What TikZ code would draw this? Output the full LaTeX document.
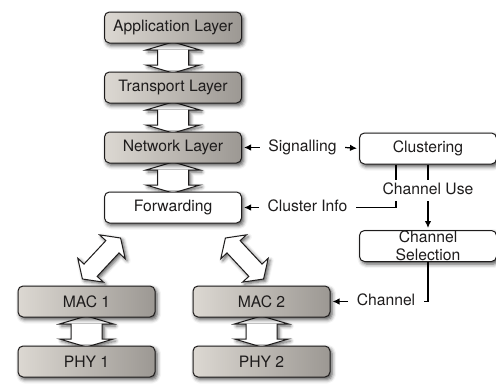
\documentclass[tikz,border=0pt]{standalone}
\usepackage{fontspec}
\setmainfont{TeX Gyre Heros}
\usetikzlibrary{positioning,calc,shadows.blur,arrows.meta,backgrounds}
\definecolor{boxlight}{RGB}{220,216,210}
\definecolor{boxdark}{RGB}{156,152,147}
\definecolor{inkgray}{RGB}{30,28,28}

\tikzset{
  layer/.style={draw=inkgray, line width=1pt, rounded corners=5pt,
    minimum width=137pt, minimum height=31pt, inner sep=0pt,
    left color=boxlight, right color=boxdark, text=inkgray,
    blur shadow={shadow xshift=2pt, shadow yshift=-2.5pt, shadow blur radius=4pt, shadow opacity=70}},
  block/.style={layer, left color=white, right color=white},
  lbl/.style={inner xsep=8pt, inner ysep=3pt, text height=11.5pt, text depth=3pt, text=inkgray},
  % fat two-headed arrow: length, head width, shaft width, head length
  pics/dblarrow/.style n args={4}{code={
    \pgfmathsetmacro\aL{#1/2}\pgfmathsetmacro\aH{#2/2}
    \pgfmathsetmacro\aS{#3/2}\pgfmathsetmacro\aK{#4}
    \draw[draw=inkgray, line width=1pt, fill=white, line join=miter,
      blur shadow={shadow xshift=2pt, shadow yshift=-2pt, shadow blur radius=3.5pt, shadow opacity=65}]
      (-\aL,0) -- (-\aL+\aK,\aH) -- (-\aL+\aK,\aS) -- (\aL-\aK,\aS) -- (\aL-\aK,\aH)
      -- (\aL,0) -- (\aL-\aK,-\aH) -- (\aL-\aK,-\aS) -- (-\aL+\aK,-\aS) -- (-\aL+\aK,-\aH) -- cycle;
  }}
}

\begin{document}
\begin{tikzpicture}[x=1pt, y=-1pt, node distance=60pt, font=\fontsize{15.7}{18}\selectfont,
    >={Latex[length=7pt,width=6.5pt]}, line width=1.2pt]
  \useasboundingbox (0,0) rectangle (496,388);
  % protocol stack
  \node[layer] (App) at (173,27.5) {Application Layer};
  \node[layer] (Tra) [below of=App] {Transport Layer};
  \node[layer] (Net) [below of=Tra] {Network Layer};
  \node[block] (Fwd) [below of=Net] {Forwarding};
  \node[layer] (MacA) at (86.5,301.5) {MAC 1};
  \node[layer] (PhyA) [below of=MacA] {PHY 1};
  \node[layer] (MacB) at (261.5,301.5) {MAC 2};
  \node[layer] (PhyB) [below of=MacB] {PHY 2};
  % cluster side
  \node[block] (Clu) at (428,148.5) {Clustering};
  \node[block, align=center] (Sel) at (428,246) {Channel\\Selection};
  \node[lbl] (Sig) at (302.5,147.5) {Signalling};
  \node[lbl] (Cin) at (307.5,207.5) {Cluster Info};
  \node[lbl] (Use) at (428,190.5) {Channel Use};
  \node[lbl] (Chn) at (386,301.5) {Channel};

  \begin{scope}[on background layer]
    \pic[rotate=90] at ($(App.south)!0.5!(Tra.north)$) {dblarrow={31}{54}{31}{8}};
    \pic[rotate=90] at ($(Tra.south)!0.5!(Net.north)$) {dblarrow={31}{54}{31}{8}};
    \pic[rotate=90] at ($(Net.south)!0.5!(Fwd.north)$) {dblarrow={31}{54}{31}{8}};
    \pic[rotate=90] at ($(MacA.south)!0.5!(PhyA.north)$) {dblarrow={31}{54}{31}{8}};
    \pic[rotate=90] at ($(MacB.south)!0.5!(PhyB.north)$) {dblarrow={31}{54}{31}{8}};
    \pic[rotate=47] at ($(Fwd.south)+(-71.5,35)$) {dblarrow={56}{35}{18}{12}};
    \pic[rotate=-47] at ($(Fwd.south)+(71.5,35)$) {dblarrow={56}{35}{18}{12}};
  \end{scope}

  \draw[->, shorten >=2pt] (Sig.west) -- (Net.east);
  \draw[->, shorten >=2pt] (Sig.east) -- (Clu.west);
  \draw[->, shorten >=2pt] (Cin.west) -- (Fwd.east);
  \draw ([xshift=-32pt]Clu.south) -- ([xshift=-32pt]Clu.south |- Use.north);
  \draw ([xshift=-32pt]Clu.south |- Use.south) |- (Cin.east);
  \draw (Clu.south) -- (Use.north);
  \draw[->, shorten >=2pt] (Use.south) -- (Sel.north);
  \draw (Sel.south) |- (Chn.east);
  \draw[->, shorten >=2pt] (Chn.west) -- (MacB.east);
\end{tikzpicture}
\end{document}
